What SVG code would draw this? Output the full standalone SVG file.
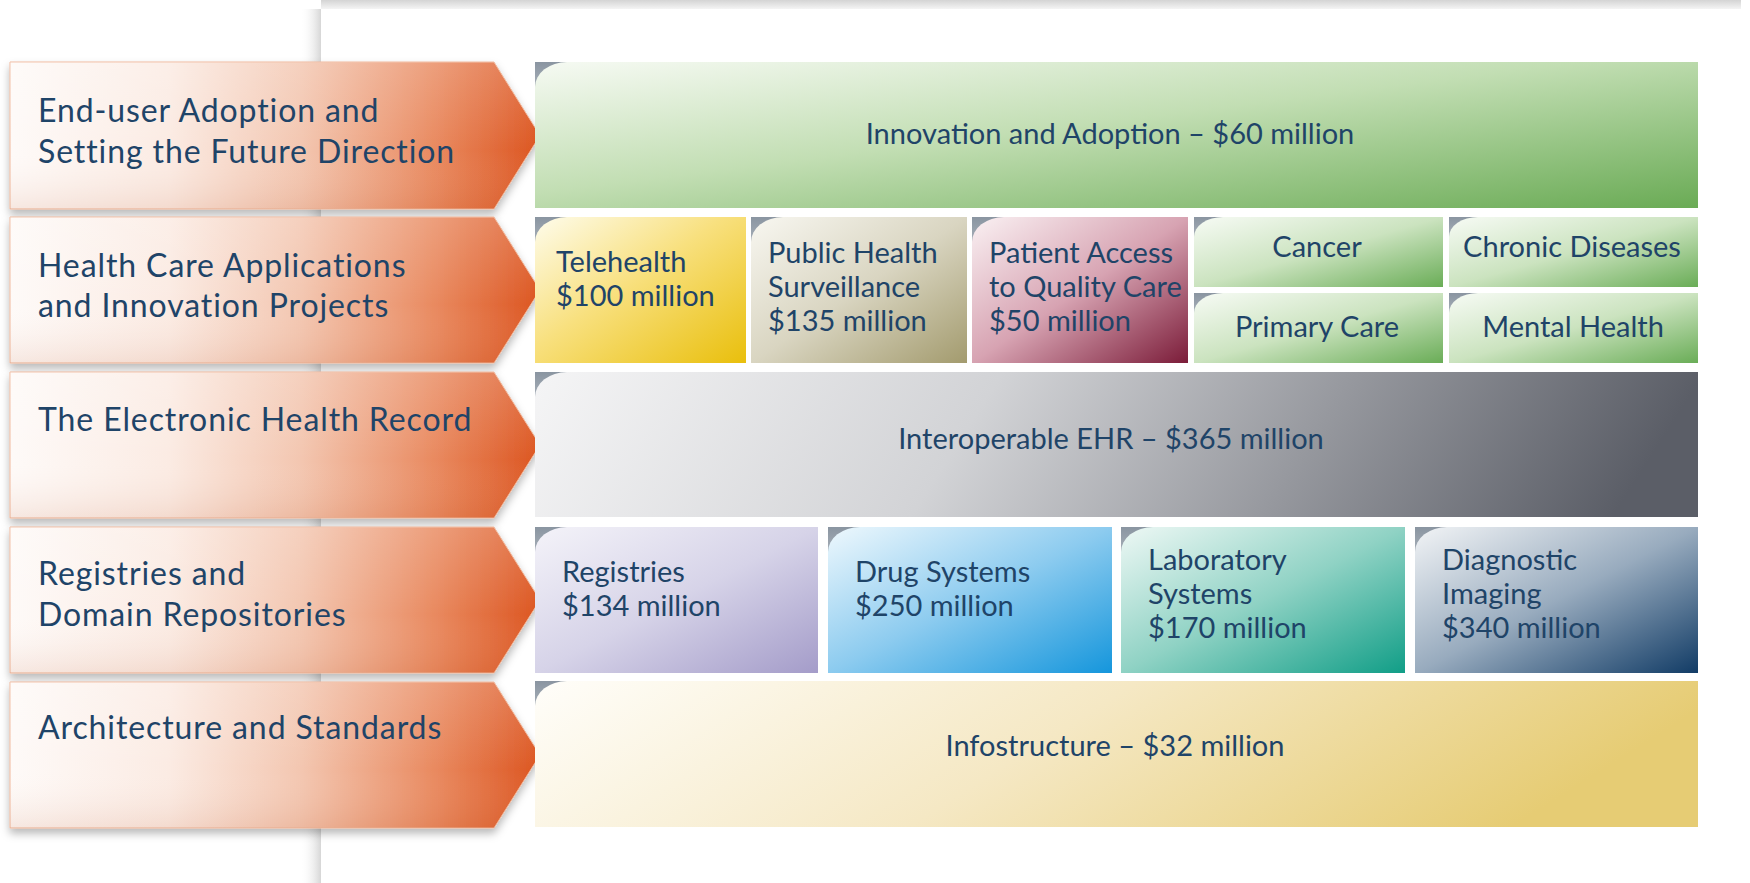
<svg xmlns="http://www.w3.org/2000/svg" width="1750" height="883" viewBox="0 0 1750 883">
<defs>
<style>
.lbl{font-family:Lato,"Open Sans","Noto Sans",sans-serif;font-size:32px;fill:#1f4468;letter-spacing:0.9px;}
.bx{font-family:Lato,"Open Sans","Noto Sans",sans-serif;font-size:29px;fill:#1f4468;}
.mid{text-anchor:middle;}
.corner{fill:url(#gCorner);}
.arrow{fill:url(#gArrow);stroke:#efb89c;stroke-width:1;filter:url(#shadow);}
.arrowShade{fill:url(#gArrowV);}
</style>
<filter id="shadow" x="-5%" y="-10%" width="115%" height="130%">
<feDropShadow dx="0" dy="5" stdDeviation="4" flood-color="#000" flood-opacity="0.28"/>
</filter>
<linearGradient id="gArrow" x1="0" y1="0" x2="1" y2="0">
<stop offset="0" stop-color="#fefaf8"/>
<stop offset="0.3" stop-color="#fbebe3"/>
<stop offset="0.55" stop-color="#f3c6b0"/>
<stop offset="0.8" stop-color="#e98a60"/>
<stop offset="1" stop-color="#dc5520"/>
</linearGradient>
<linearGradient id="gArrowV" x1="0" y1="0" x2="0" y2="1">
<stop offset="0" stop-color="#ffffff" stop-opacity="0.18"/>
<stop offset="0.6" stop-color="#ffffff" stop-opacity="0"/>
<stop offset="1" stop-color="#b04010" stop-opacity="0.10"/>
</linearGradient>
<linearGradient id="gCorner" x1="0" y1="0" x2="0" y2="1">
<stop offset="0" stop-color="#8a95a1"/>
<stop offset="1" stop-color="#a9b1ba"/>
</linearGradient>
<linearGradient id="gTop" x1="0" y1="0" x2="0" y2="1">
<stop offset="0" stop-color="#d4d4d4"/>
<stop offset="1" stop-color="#f4f4f4"/>
</linearGradient>
<linearGradient id="gLeft" x1="0" y1="0" x2="1" y2="0">
<stop offset="0" stop-color="#ffffff" stop-opacity="0"/>
<stop offset="1" stop-color="#d6d6d6"/>
</linearGradient>
<linearGradient id="gInnov" x1="0" y1="0" x2="1" y2="1">
<stop offset="0" stop-color="#f6faf3"/>
<stop offset="0.45" stop-color="#c2deb3"/>
<stop offset="1" stop-color="#6aab55"/>
</linearGradient>
<linearGradient id="gSmallGreen" x1="0" y1="0" x2="1" y2="1">
<stop offset="0" stop-color="#f7fbf5"/>
<stop offset="0.5" stop-color="#cbe3bf"/>
<stop offset="1" stop-color="#6aad57"/>
</linearGradient>
<linearGradient id="gTele" x1="0" y1="0" x2="1" y2="1">
<stop offset="0" stop-color="#fefcec"/>
<stop offset="0.45" stop-color="#f8e07e"/>
<stop offset="1" stop-color="#e9bf0c"/>
</linearGradient>
<linearGradient id="gPub" x1="0" y1="0" x2="1" y2="1">
<stop offset="0" stop-color="#f8f7f1"/>
<stop offset="0.5" stop-color="#d9d5c1"/>
<stop offset="1" stop-color="#a39b6e"/>
</linearGradient>
<linearGradient id="gPat" x1="0" y1="0" x2="1" y2="1">
<stop offset="0" stop-color="#faf1f3"/>
<stop offset="0.5" stop-color="#d7a3b2"/>
<stop offset="1" stop-color="#7b1c39"/>
</linearGradient>
<linearGradient id="gEhr" x1="0" y1="0" x2="1" y2="0.08">
<stop offset="0" stop-color="#f5f5f6"/>
<stop offset="0.4" stop-color="#d2d3d6"/>
<stop offset="1" stop-color="#5b5e67"/>
</linearGradient>
<linearGradient id="gReg" x1="0" y1="0" x2="1" y2="1">
<stop offset="0" stop-color="#f4f3f9"/>
<stop offset="0.5" stop-color="#d6d3e8"/>
<stop offset="1" stop-color="#a49cc9"/>
</linearGradient>
<linearGradient id="gDrug" x1="0" y1="0" x2="1" y2="1">
<stop offset="0" stop-color="#eef8fd"/>
<stop offset="0.5" stop-color="#8ccbef"/>
<stop offset="1" stop-color="#1596dc"/>
</linearGradient>
<linearGradient id="gLab" x1="0" y1="0" x2="1" y2="1">
<stop offset="0" stop-color="#eef8f5"/>
<stop offset="0.5" stop-color="#8fd2c4"/>
<stop offset="1" stop-color="#119e87"/>
</linearGradient>
<linearGradient id="gDiag" x1="0" y1="0" x2="1" y2="1">
<stop offset="0" stop-color="#f2f4f6"/>
<stop offset="0.5" stop-color="#98abbe"/>
<stop offset="1" stop-color="#123c66"/>
</linearGradient>
<linearGradient id="gInfo" x1="0" y1="0" x2="1" y2="0.2">
<stop offset="0" stop-color="#fffefa"/>
<stop offset="0.5" stop-color="#f5e8c4"/>
<stop offset="1" stop-color="#e6cc74"/>
</linearGradient>
</defs>

<rect width="1750" height="883" fill="#ffffff"/>
<g id="background">
<rect x="321" y="0" width="1420" height="9" fill="url(#gTop)"/>
<rect x="300" y="9" width="21" height="874" fill="url(#gLeft)"/>
</g>

<g id="connectors"></g>

<g id="arrow-end-user">
<path class="arrow" d="M10,62 H494 L540,135.5 L494,209 H10 Z"/>
<path class="arrowShade" d="M10,62 H494 L540,135.5 L494,209 H10 Z"/>
<text class="lbl" x="38" y="122">End-user Adoption and</text>
<text class="lbl" x="38" y="163">Setting the Future Direction</text>
</g>
<g id="arrow-health-care">
<path class="arrow" d="M10,217 H494 L540,290 L494,363 H10 Z"/>
<path class="arrowShade" d="M10,217 H494 L540,290 L494,363 H10 Z"/>
<text class="lbl" x="38" y="277">Health Care Applications</text>
<text class="lbl" x="38" y="317">and Innovation Projects</text>
</g>
<g id="arrow-ehr">
<path class="arrow" d="M10,372 H494 L540,445 L494,518 H10 Z"/>
<path class="arrowShade" d="M10,372 H494 L540,445 L494,518 H10 Z"/>
<text class="lbl" x="38" y="431">The Electronic Health Record</text>
</g>
<g id="arrow-registries">
<path class="arrow" d="M10,527 H494 L540,600 L494,673 H10 Z"/>
<path class="arrowShade" d="M10,527 H494 L540,600 L494,673 H10 Z"/>
<text class="lbl" x="38" y="585">Registries and</text>
<text class="lbl" x="38" y="626">Domain Repositories</text>
</g>
<g id="arrow-architecture">
<path class="arrow" d="M10,682 H494 L540,755 L494,828 H10 Z"/>
<path class="arrowShade" d="M10,682 H494 L540,755 L494,828 H10 Z"/>
<text class="lbl" x="38" y="739">Architecture and Standards</text>
</g>

<g id="box-innovation">
<rect class="corner" x="535" y="62" width="34" height="28"/>
<path d="M535,87 A32,25 0 0 1 567,62 H1698 V208 H535 Z" fill="url(#gInnov)"/>
<text class="bx mid" x="1110" y="144">Innovation and Adoption – $60 million</text>
</g>

<g id="box-telehealth">
<rect class="corner" x="535" y="217" width="34" height="28"/>
<path d="M535,242 A32,25 0 0 1 567,217 H746 V363 H535 Z" fill="url(#gTele)"/>
<text class="bx" x="556" y="272">Telehealth</text>
<text class="bx" x="556" y="306">$100 million</text>
</g>
<g id="box-public-health">
<rect class="corner" x="751" y="217" width="34" height="28"/>
<path d="M751,242 A32,25 0 0 1 783,217 H967 V363 H751 Z" fill="url(#gPub)"/>
<text class="bx" x="768" y="263">Public Health</text>
<text class="bx" x="768" y="297">Surveillance</text>
<text class="bx" x="768" y="331">$135 million</text>
</g>
<g id="box-patient-access">
<rect class="corner" x="972" y="217" width="34" height="28"/>
<path d="M972,242 A32,25 0 0 1 1004,217 H1188 V363 H972 Z" fill="url(#gPat)"/>
<text class="bx" x="989" y="263">Patient Access</text>
<text class="bx" x="989" y="297">to Quality Care</text>
<text class="bx" x="989" y="331">$50 million</text>
</g>
<g id="box-cancer">
<rect class="corner" x="1194" y="217" width="30" height="22"/>
<path d="M1194,237 A29,20 0 0 1 1223,217 H1443 V287 H1194 Z" fill="url(#gSmallGreen)"/>
<text class="bx mid" x="1317" y="257">Cancer</text>
</g>
<g id="box-chronic">
<rect class="corner" x="1449" y="217" width="30" height="22"/>
<path d="M1449,237 A29,20 0 0 1 1478,217 H1698 V287 H1449 Z" fill="url(#gSmallGreen)"/>
<text class="bx mid" x="1572" y="257">Chronic Diseases</text>
</g>
<g id="box-primary-care">
<rect class="corner" x="1194" y="293" width="30" height="22"/>
<path d="M1194,313 A29,20 0 0 1 1223,293 H1443 V363 H1194 Z" fill="url(#gSmallGreen)"/>
<text class="bx mid" x="1317" y="337">Primary Care</text>
</g>
<g id="box-mental-health">
<rect class="corner" x="1449" y="293" width="30" height="22"/>
<path d="M1449,313 A29,20 0 0 1 1478,293 H1698 V363 H1449 Z" fill="url(#gSmallGreen)"/>
<text class="bx mid" x="1573" y="337">Mental Health</text>
</g>

<g id="box-ehr">
<rect class="corner" x="535" y="372" width="34" height="28"/>
<path d="M535,397 A32,25 0 0 1 567,372 H1698 V517 H535 Z" fill="url(#gEhr)"/>
<text class="bx mid" x="1111" y="449">Interoperable EHR – $365 million</text>
</g>

<g id="box-registries">
<rect class="corner" x="535" y="527" width="34" height="28"/>
<path d="M535,552 A32,25 0 0 1 567,527 H818 V673 H535 Z" fill="url(#gReg)"/>
<text class="bx" x="562" y="582">Registries</text>
<text class="bx" x="562" y="616">$134 million</text>
</g>
<g id="box-drug">
<rect class="corner" x="828" y="527" width="34" height="28"/>
<path d="M828,552 A32,25 0 0 1 860,527 H1112 V673 H828 Z" fill="url(#gDrug)"/>
<text class="bx" x="855" y="582">Drug Systems</text>
<text class="bx" x="855" y="616">$250 million</text>
</g>
<g id="box-lab">
<rect class="corner" x="1121" y="527" width="34" height="28"/>
<path d="M1121,552 A32,25 0 0 1 1153,527 H1405 V673 H1121 Z" fill="url(#gLab)"/>
<text class="bx" x="1148" y="570">Laboratory</text>
<text class="bx" x="1148" y="604">Systems</text>
<text class="bx" x="1148" y="638">$170 million</text>
</g>
<g id="box-diagnostic">
<rect class="corner" x="1415" y="527" width="34" height="28"/>
<path d="M1415,552 A32,25 0 0 1 1447,527 H1698 V673 H1415 Z" fill="url(#gDiag)"/>
<text class="bx" x="1442" y="570">Diagnostic</text>
<text class="bx" x="1442" y="604">Imaging</text>
<text class="bx" x="1442" y="638">$340 million</text>
</g>

<g id="box-infostructure">
<rect class="corner" x="535" y="681" width="34" height="28"/>
<path d="M535,706 A32,25 0 0 1 567,681 H1698 V827 H535 Z" fill="url(#gInfo)"/>
<text class="bx mid" x="1115" y="756">Infostructure – $32 million</text>
</g>
</svg>
